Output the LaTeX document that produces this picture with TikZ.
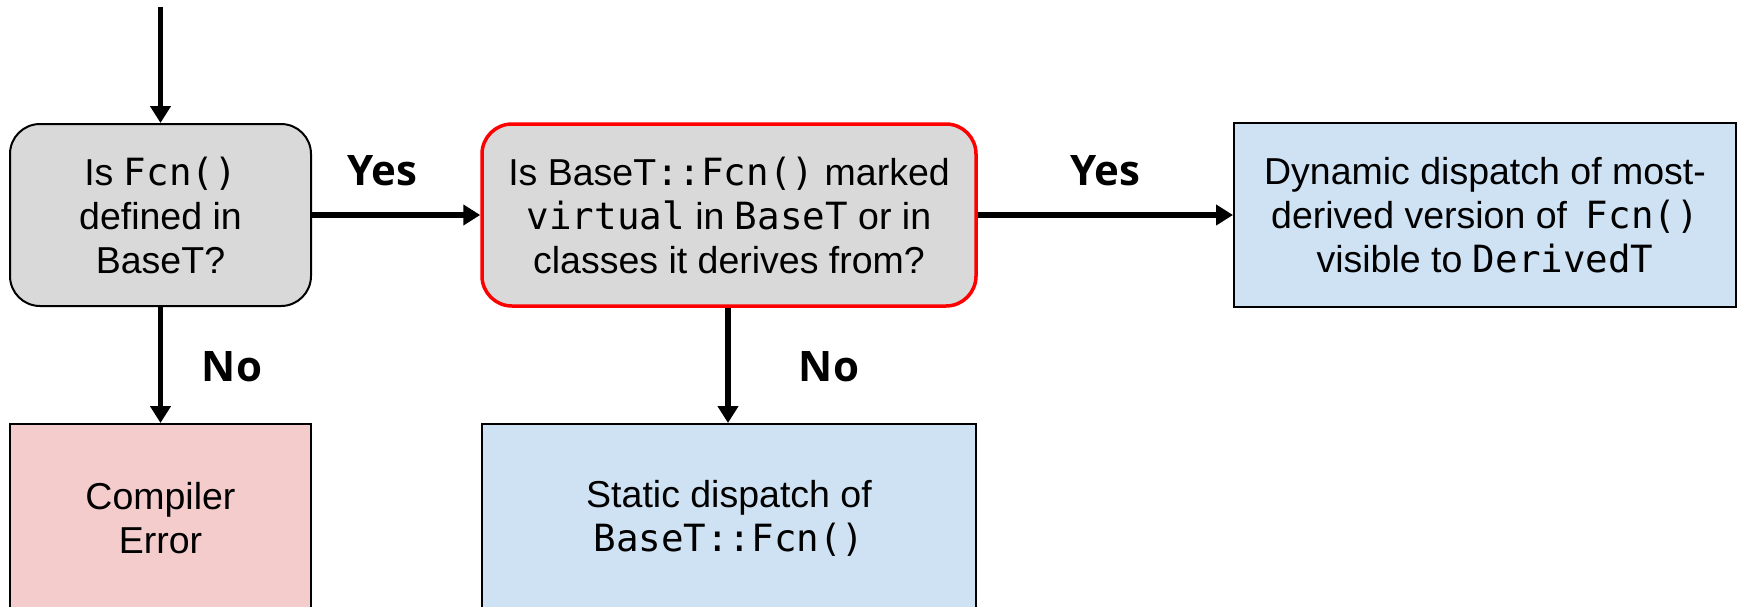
\documentclass[tikz,border=0pt]{standalone}
\usepackage{fontspec}
\setmainfont{Liberation Sans}
\newfontfamily\codefont{DejaVu Sans Mono}
\newfontfamily\labelfont{Open Sans}[BoldFont={Open Sans Bold}]
\usetikzlibrary{arrows.meta}
\definecolor{qgray}{HTML}{D9D9D9}
\definecolor{rblue}{HTML}{CFE2F3}
\definecolor{rpink}{HTML}{F4CCCC}
\newcommand{\code}[1]{{\codefont #1}}
\tikzset{
  boxtext/.style={align=center, font=\fontsize{37.5}{44}\selectfont, inner sep=0pt},
  question/.style={boxtext, draw=black, line width=2pt, fill=qgray, rounded corners=30pt},
  keyquestion/.style={question, draw=red, line width=3.5pt},
  outcome/.style={boxtext, draw=black, line width=2pt, fill=rblue},
  failure/.style={boxtext, draw=black, line width=2pt, fill=rpink},
  flow/.style={line width=5.5pt, -{Triangle[length=17pt,width=20pt]}},
  answer/.style={font=\labelfont\bfseries\fontsize{42}{48}\selectfont, inner sep=0pt},
}
\begin{document}
\begin{tikzpicture}[x=1pt, y=-1pt]
  \useasboundingbox (0,0) rectangle (1756,606);
  \clip (0,0) rectangle (1756,606);

  % decision boxes
  \node[question, minimum width=301pt, minimum height=182pt] (defined) at (160.5,215)
    {Is \code{Fcn()}\\defined in\\BaseT?};
  \node[keyquestion, minimum width=494pt, minimum height=182pt] (virtual) at (729,215)
    {Is BaseT\code{::Fcn()} marked\\\code{virtual} in \code{BaseT} or in\\classes it derives from?};

  % outcomes
  \node[outcome, minimum width=502pt, minimum height=184pt] (dynamic) at (1485,215)
    {Dynamic dispatch of most-\\derived version of\hspace{0.5em}\code{Fcn()}\\visible to \code{DerivedT}};
  \node[failure, minimum width=301pt, minimum height=188pt] (error) at (160.5,518)
    {Compiler\\Error};
  \node[outcome, minimum width=494pt, minimum height=188pt] (static) at (729,518)
    {Static dispatch of\\\code{BaseT::Fcn()}};

  % entry point
  \coordinate (entry) at (160.5,7);

  % connectors
  \draw[flow] (entry) -- (defined.north);
  \draw[flow] (defined.east) -- (virtual.west);
  \draw[flow] (virtual.east) -- (dynamic.west);
  \draw[flow] (defined.south) -- (error.north);
  \draw[flow] (virtual.south -| 728,0) -- (static.north -| 728,0);

  % branch labels
  \node[answer] (yes1) at (382,171) {Yes};
  \node[answer] (yes2) at (1105,171) {Yes};
  \node[answer] (no1) at (232,367) {No};
  \node[answer] (no2) at (829,367) {No};
\end{tikzpicture}
\end{document}
